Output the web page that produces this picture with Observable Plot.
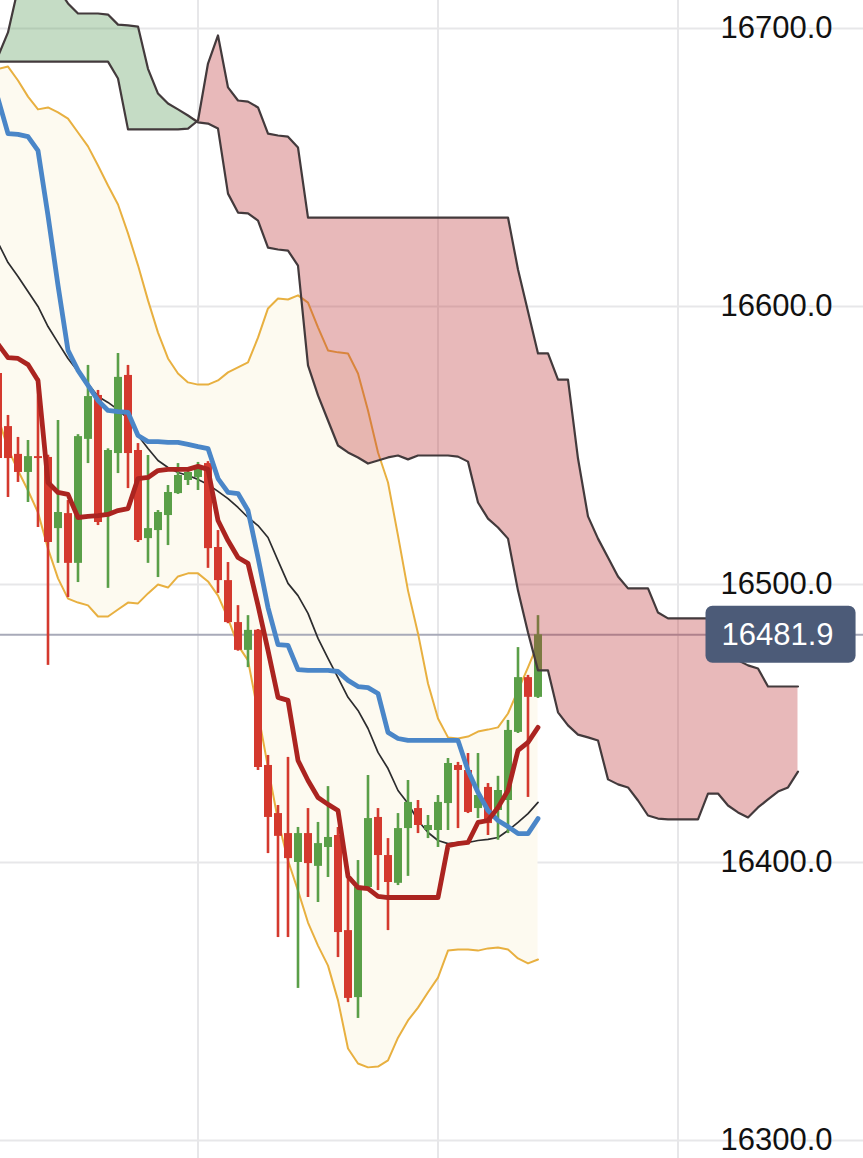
<!DOCTYPE html>
<html>
<head>
<meta charset="utf-8">
<script src="https://cdn.jsdelivr.net/npm/d3@7"></script>
<script src="https://cdn.jsdelivr.net/npm/@observablehq/plot@0.6"></script>
<style>
html, body { margin: 0; padding: 0; background: #fff; }
#chart svg { display: block; }
</style>
</head>
<body>
<div id="chart"></div>
<script>
// ---- DATA (candle index k starts at -1; cloud is shifted 26 bars ahead) ----
const firstIndex = -1;
const yTicks = [16300, 16400, 16500, 16600, 16700];
const timeTicks = [19, 43, 67];
const lastPrice = 16481.9;

const opens = [16575.9,16556.8,16546.8,16540.3,16546.0,16545.7,16520.1,16525.5,16507.6,16552.2,16568.0,16525.5,16547.1,16575.2,16548.2,16516.5,16519.4,16524.8,16532.7,16537.4,16538.5,16543.5,16513.3,16501.4,16486.3,16476.3,16483.5,16434.9,16417.6,16410.4,16400.0,16410.4,16398.6,16405.4,16409.7,16375.5,16351.4,16391.0,16416.2,16402.5,16392.5,16412.2,16419.4,16411.5,16411.5,16421.2,16434.9,16433.1,16419.4,16427.0,16418.7,16422.3,16446.8,16466.5,16459.4];
const highs = [16578.8,16560.8,16552.9,16551.8,16574.1,16546.5,16559.0,16530.2,16553.9,16578.8,16569.8,16548.8,16583.1,16578.8,16550.7,16546.4,16526.6,16535.6,16543.5,16541.0,16543.9,16544.2,16519.4,16507.9,16492.4,16488.8,16483.8,16438.5,16420.5,16437.8,16412.6,16419.4,16414.4,16427.3,16412.6,16396.0,16400.7,16431.3,16419.4,16408.6,16417.6,16429.5,16422.3,16416.9,16424.1,16437.4,16436.0,16439.2,16439.2,16428.4,16431.0,16451.1,16477.3,16467.3,16488.8];
const lows = [16532.0,16531.3,16536.7,16529.5,16520.5,16470.9,16507.6,16495.3,16500.7,16543.5,16521.2,16498.6,16539.9,16534.5,16515.1,16507.6,16502.5,16514.0,16532.4,16535.6,16533.8,16505.8,16496.8,16485.9,16476.0,16470.1,16433.1,16403.2,16373.0,16373.0,16354.7,16387.4,16385.6,16394.6,16365.8,16349.6,16343.9,16390.5,16389.9,16375.5,16391.7,16395.0,16410.4,16408.6,16405.4,16411.5,16412.2,16417.6,16415.8,16409.7,16408.0,16410.4,16446.4,16423.4,16459.0];
const closes = [16545.3,16545.3,16540.3,16546.0,16545.3,16515.1,16525.9,16507.6,16553.2,16567.6,16522.3,16548.2,16574.5,16547.1,16515.8,16520.1,16525.9,16533.1,16539.2,16540.3,16542.1,16512.9,16501.4,16486.3,16476.3,16483.5,16434.2,16416.2,16409.4,16401.4,16410.4,16399.6,16406.8,16409.0,16374.8,16351.1,16391.0,16415.8,16402.5,16392.8,16412.2,16421.6,16413.3,16413.3,16421.6,16435.6,16433.1,16418.0,16424.1,16414.0,16425.9,16447.5,16466.5,16459.4,16481.9];

const bbUpper = [16685.4,16686.3,16681.3,16675.5,16670.9,16671.6,16669.8,16667.6,16662.6,16657.6,16650.7,16643.5,16636.7,16626.3,16614.8,16602.2,16590.6,16581.3,16575.9,16572.7,16571.9,16571.9,16573.4,16576.3,16578.1,16579.9,16588.8,16599.3,16602.9,16602.5,16604.0,16601.4,16592.5,16584.2,16583.5,16583.1,16575.9,16562.6,16547.5,16536.7,16517.6,16497.8,16482.4,16464.4,16451.8,16445.0,16444.6,16445.3,16447.1,16447.8,16448.6,16453.6,16461.9,16470.2,16478.8];
const bbLower = [16560.1,16548.9,16541.0,16533.8,16525.9,16512.9,16502.2,16494.9,16493.5,16492.5,16488.5,16488.5,16491.0,16493.5,16493.2,16496.8,16500.0,16498.9,16502.9,16504.0,16504.0,16501.1,16496.0,16487.8,16478.1,16472.7,16453.9,16434.2,16415.1,16400.7,16389.9,16378.4,16370.1,16362.9,16350.4,16333.1,16327.7,16326.3,16326.6,16328.8,16337.0,16343.2,16347.8,16353.3,16358.6,16368.3,16368.7,16368.7,16368.3,16369.1,16369.4,16368.7,16365.5,16363.7,16365.1];
const bbMiddle = [16623.0,16615.8,16610.8,16605.4,16600.0,16592.8,16587.0,16581.3,16576.6,16572.3,16567.6,16565.5,16562.9,16559.7,16553.6,16548.9,16544.6,16542.1,16540.3,16539.2,16537.8,16536.0,16533.5,16530.9,16527.7,16524.1,16521.2,16516.9,16508.6,16500.4,16496.0,16489.6,16480.6,16473.4,16466.5,16459.4,16454.7,16448.2,16439.6,16433.8,16425.9,16421.2,16415.1,16410.8,16407.9,16406.8,16407.2,16407.2,16407.9,16408.3,16409.0,16411.5,16414.4,16417.6,16421.6];

const kijun = [16674.8,16662.2,16661.9,16661.1,16656.1,16632.7,16607.6,16584.2,16577.0,16571.6,16566.2,16562.6,16562.2,16561.9,16553.6,16551.4,16551.4,16551.1,16551.1,16550.4,16549.6,16548.9,16538.1,16533.1,16532.7,16526.6,16509.7,16491.7,16478.4,16478.1,16469.4,16469.1,16469.1,16469.1,16468.7,16465.5,16463.3,16462.9,16460.8,16446.8,16444.6,16443.9,16443.9,16443.9,16443.9,16443.9,16443.9,16433.1,16425.2,16418.7,16415.1,16412.9,16410.4,16410.4,16415.8];
const tenkan = [16586.5,16581.6,16581.3,16579.1,16573.4,16536.7,16533.1,16532.4,16524.1,16524.5,16524.8,16525.2,16526.6,16527.3,16538.1,16538.5,16541.0,16541.4,16541.4,16541.4,16542.5,16541.4,16523.0,16515.8,16509.7,16507.6,16492.5,16476.3,16459.4,16458.3,16436.7,16429.5,16423.4,16420.9,16418.7,16395.0,16391.0,16390.6,16387.8,16387.4,16387.4,16387.4,16387.4,16387.4,16387.4,16406.1,16406.8,16407.2,16414.4,16415.1,16419.8,16425.9,16440.3,16443.2,16448.6];

const spanA = [16689.9,16698.6,16714.4,16714.4,16714.4,16714.4,16714.4,16709.0,16705.4,16705.4,16705.4,16705.0,16701.4,16701.1,16700.7,16685.5,16676.6,16673.0,16670.9,16668.7,16666.2,16665.8,16664.0,16640.6,16633.8,16633.5,16630.9,16621.2,16620.5,16620.1,16614.7,16578.8,16568.0,16559.0,16550.0,16547.5,16545.7,16543.5,16544.6,16545.7,16546.4,16545.0,16546.4,16546.4,16546.4,16546.4,16546.0,16544.2,16529.5,16523.7,16520.5,16516.5,16497.8,16482.7,16469.1,16469.1,16454.0,16449.3,16446.0,16445.0,16443.9,16429.9,16428.1,16427.0,16422.3,16416.9,16415.8,16415.5,16415.5,16415.5,16415.5,16424.8,16424.8,16420.5,16418.0,16416.2,16419.8,16422.7,16425.5,16427.0,16432.7];
const spanB = [16688.1,16688.1,16688.1,16688.1,16688.1,16688.1,16688.1,16688.1,16688.1,16688.1,16688.1,16688.1,16682.0,16663.7,16663.7,16663.7,16663.7,16663.7,16663.7,16664.0,16666.9,16687.4,16697.5,16678.8,16674.1,16673.7,16671.6,16662.2,16661.5,16661.1,16657.2,16632.0,16632.0,16632.0,16632.0,16632.0,16632.0,16632.0,16632.0,16632.0,16632.0,16632.0,16632.0,16632.0,16632.0,16632.0,16632.0,16632.0,16632.0,16632.0,16632.0,16632.0,16613.3,16598.2,16583.1,16583.1,16573.7,16573.7,16545.3,16524.5,16516.5,16509.7,16502.9,16498.6,16498.6,16498.6,16489.9,16487.8,16487.8,16487.8,16487.8,16487.8,16487.8,16479.9,16472.7,16470.9,16469.8,16463.3,16463.3,16463.3,16463.3];

// ---- tables built from the arrays ----
const bars = opens.map((o, i) => ({
  k: i + firstIndex, open: o, high: highs[i], low: lows[i], close: closes[i],
  upper: bbUpper[i], lower: bbLower[i], mid: bbMiddle[i],
  kijun: kijun[i], tenkan: tenkan[i]
}));
const cloud = spanA.map((a, i) => ({k: i + firstIndex, a, b: spanB[i]}));

const UP = "#5a9f48", DOWN = "#d4392e";
const candleColor = d => d.close >= d.open ? UP : DOWN;
const W = 863, H = 1158;

const chart = Plot.plot({
  width: W,
  height: H,
  marginTop: 0, marginRight: 0, marginBottom: 0, marginLeft: 0,
  x: {domain: [-0.75, 85.55], axis: null},
  y: {domain: [16293.52, 16710.07], label: null},
  color: {type: "identity"},
  style: {fontFamily: "'Liberation Sans', Arial, Helvetica, sans-serif", fontSize: "31px", background: "#fff", color: "#111"},
  marks: [
    Plot.gridY(yTicks, {stroke: "#e7e7e9", strokeOpacity: 1, strokeWidth: 2}),
    Plot.gridX(timeTicks, {stroke: "#e7e7e9", strokeOpacity: 1, strokeWidth: 2}),
    // Bollinger band fill
    Plot.areaY(bars, {x: "k", y1: "lower", y2: "upper", fill: "#fdfaf0", clip: true}),
    // last price line
    Plot.ruleY([lastPrice], {stroke: "#a8aab9", strokeWidth: 2}),
    // Bollinger lines
    Plot.lineY(bars, {x: "k", y: "upper", stroke: "#e8b040", strokeWidth: 2, clip: true}),
    Plot.lineY(bars, {x: "k", y: "lower", stroke: "#e8b040", strokeWidth: 2, clip: true}),
    Plot.lineY(bars, {x: "k", y: "mid", stroke: "#2c2c2e", strokeWidth: 1.7, clip: true}),
    // candles
    Plot.ruleX(bars, {x: "k", y1: "low", y2: "high", stroke: candleColor, strokeWidth: 2.6, clip: true}),
    Plot.ruleX(bars, {x: "k", y1: "open", y2: "close", stroke: candleColor, strokeWidth: 8, clip: true}),
    // Ichimoku conversion / base lines
    Plot.lineY(bars, {x: "k", y: "kijun", stroke: "#4a86c8", strokeWidth: 4.8, clip: true}),
    Plot.lineY(bars, {x: "k", y: "tenkan", stroke: "#ab2420", strokeWidth: 4.8, clip: true}),
    // cloud fills
    Plot.areaY(cloud, {x: "k", y1: "b", y2: d => Math.max(d.a, d.b), fill: "rgb(88,155,88)", fillOpacity: 0.35, clip: true}),
    Plot.areaY(cloud, {x: "k", y1: "a", y2: d => Math.max(d.a, d.b), fill: "rgb(190,55,58)", fillOpacity: 0.35, clip: true}),
    // cloud outlines
    Plot.lineY(cloud, {x: "k", y: "a", stroke: "#433a3c", strokeWidth: 2.2, clip: true}),
    Plot.lineY(cloud, {x: "k", y: "b", stroke: "#433a3c", strokeWidth: 2.2, clip: true}),
    // price axis labels
    Plot.axisY(yTicks, {anchor: "right", tickSize: 0, tickPadding: 0, dx: -143, label: null,
      tickFormat: d => d.toFixed(1), fontSize: 31, fill: "#111"}),
    // last price label text
    Plot.text([lastPrice], {y: d => d, text: d => d.toFixed(1), frameAnchor: "right",
      textAnchor: "start", dx: -142, fill: "#fff", fontSize: 31})
  ]
});

document.getElementById("chart").append(chart);

// rounded box behind the last-price label, placed from the y scale and the text's size
(function () {
  const label = lastPrice.toFixed(1);
  const texts = Array.from(chart.querySelectorAll("text")).filter(t => t.textContent === label);
  const t = texts[texts.length - 1];
  if (!t) return;
  const cy = chart.scale("y").apply(lastPrice);
  let left = W - 159, width = 153;
  try {
    const bb = t.getBBox();
    const ctm = t.getCTM ? t.getCTM() : null;
    const sx = ctm ? ctm.e + bb.x * ctm.a : bb.x;
    if (isFinite(sx) && bb.width > 0) { left = sx - 16; width = Math.min(bb.width + 38, W - 4 - left); }
  } catch (e) {}
  const r = document.createElementNS("http://www.w3.org/2000/svg", "rect");
  r.setAttribute("x", left);
  r.setAttribute("y", cy - 28.5);
  r.setAttribute("width", width);
  r.setAttribute("height", 57);
  r.setAttribute("rx", 7);
  r.setAttribute("fill", "#4c5b78");
  const textGroup = t.closest("g") || t.parentNode;
  chart.insertBefore(r, textGroup);
})();
</script>
</body>
</html>
